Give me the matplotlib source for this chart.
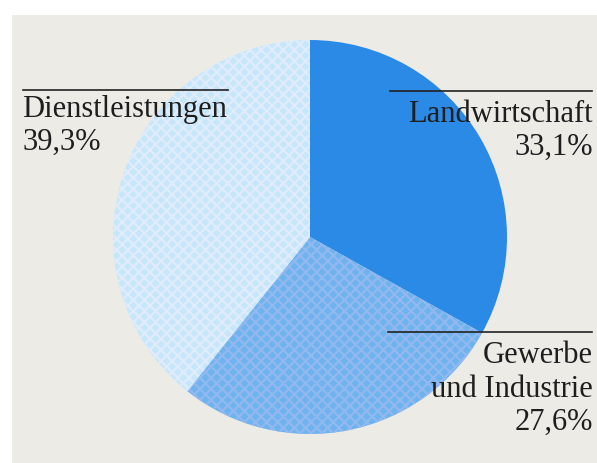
import matplotlib.pyplot as plt
from matplotlib.patches import Rectangle

sectors = ['Landwirtschaft', 'Gewerbe\nund Industrie', 'Dienstleistungen']
shares = [33.1, 27.6, 39.3]
colors = ['#2b8ae6', '#6db3ee', '#c6e7fa']
hatch_colors = ['#2b8ae6', '#93b8f0', '#e0ecfb']
hatches = ['', 'xxx', 'xxx']

plt.rcParams['font.family'] = ['Liberation Serif', 'DejaVu Serif']
plt.rcParams['hatch.linewidth'] = 1.6

W, H = 597, 463
fig = plt.figure(figsize=(W / 100, H / 100), dpi=100, facecolor='white')
ax = fig.add_axes([0, 0, 1, 1])

# grey paper panel
ax.add_patch(Rectangle((12, 0), W - 12, H - 15, facecolor='#ecebe6',
                       edgecolor='none', zorder=0))

wedges, _ = ax.pie(shares, colors=colors, startangle=90, counterclock=False,
                   center=(310, 226), radius=197, frame=True)
for w, hc, h in zip(wedges, hatch_colors, hatches):
    w.set_edgecolor(hc)
    w.set_linewidth(0)
    w.set_hatch(h)
    w.set_zorder(1)
ax.set_xlim(0, W)
ax.set_ylim(0, H)
ax.set_aspect('equal')
ax.axis('off')

txt = dict(fontsize=22, color='#1e1e1e', va='baseline', zorder=3)
pct = lambda v: f'{v:.1f}%'.replace('.', ',')

# Dienstleistungen, upper left
ax.plot([23, 228], [373, 373], color='#222222', lw=1.2, zorder=3)
ax.text(22, 346, sectors[2], ha='left', **txt)
ax.text(22, 313, pct(shares[2]), ha='left', **txt)

# Landwirtschaft, upper right
ax.plot([390, 592], [372, 372], color='#222222', lw=1.2, zorder=3)
ax.text(593, 341, sectors[0], ha='right', **txt)
ax.text(593, 308, pct(shares[0]), ha='right', **txt)

# Gewerbe und Industrie, lower right
ax.plot([388, 592], [131, 131], color='#222222', lw=1.2, zorder=3)
ax.text(593, 100, 'Gewerbe', ha='right', **txt)
ax.text(593, 66, 'und Industrie', ha='right', **txt)
ax.text(593, 33, pct(shares[1]), ha='right', **txt)

fig.savefig('out.png', dpi=100, facecolor='white')
